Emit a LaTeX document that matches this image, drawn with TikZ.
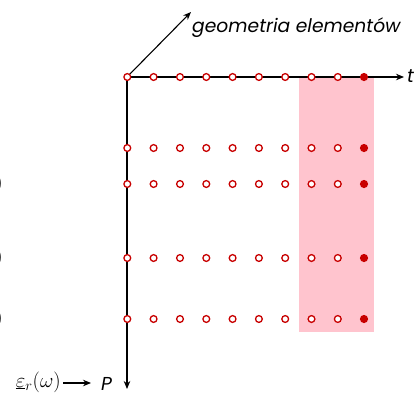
\documentclass[tikz,border=0pt]{standalone}
\usepackage{fontspec}
\setmainfont{Poppins}
\usetikzlibrary{arrows.meta}
\definecolor{dotred}{HTML}{C80000}
\definecolor{pinkbg}{HTML}{FFC4CE}
\begin{document}
\begin{tikzpicture}[x=1pt,y=-1pt,
  opendot/.style={circle,draw=dotred,fill=white,line width=1.3pt,minimum size=6.8pt,inner sep=0pt},
  fulldot/.style={circle,draw=dotred,fill=dotred,line width=1.3pt,minimum size=6.8pt,inner sep=0pt},
  axisline/.style={line width=1.1pt,-{Stealth[length=8pt,width=6.5pt]}},
  lbl/.style={inner sep=0pt,font=\fontsize{18.7}{21}\selectfont\itshape}]
\useasboundingbox (0,0) rectangle (416,397);
\fill[pinkbg] (299,77) rectangle (374,332);
\coordinate (O) at (127,77);
\coordinate (Tend) at (404,77);
\coordinate (Vend) at (127,389);
\coordinate (Gend) at (191,12);
\draw[axisline] (O) -- (Tend);
\draw[axisline] (O) -- (Vend);
\draw[axisline] (O) -- (Gend);
\node[lbl,anchor=west] (t) at (407,76) {t};
\node[lbl,anchor=west] (geo) at (192,28) {geometria elementów};
\node[lbl,anchor=west] (P) at (101,384) {P};
\node[inner sep=0pt,anchor=east,font=\fontsize{21}{24}\selectfont] (eps) at (61,382) {$\underline{\varepsilon}_r(\omega)$};
\coordinate (ea) at (63,383);
\coordinate (eb) at (91,383);
\draw[line width=1.1pt,-{Stealth[length=8pt,width=6.5pt]}] (ea) -- (eb);
\foreach \r/\y in {1/77,2/148,3/184,4/258,5/319}{
  \foreach \c/\x in {1/127.3,2/153.6,3/180,4/206.3,5/232.6,6/258.9,7/285.2,8/311.5,9/337.8}{
    \node[opendot] (d-\r-\c) at (\x,\y) {};
  }
  \node[fulldot] (d-\r-10) at (364,\y) {};
}
\foreach \y in {184,258,319}{
  \node[inner sep=0pt,anchor=east,font=\fontsize{18}{20}\selectfont] at (3,\y) {)};
}
\end{tikzpicture}
\end{document}
